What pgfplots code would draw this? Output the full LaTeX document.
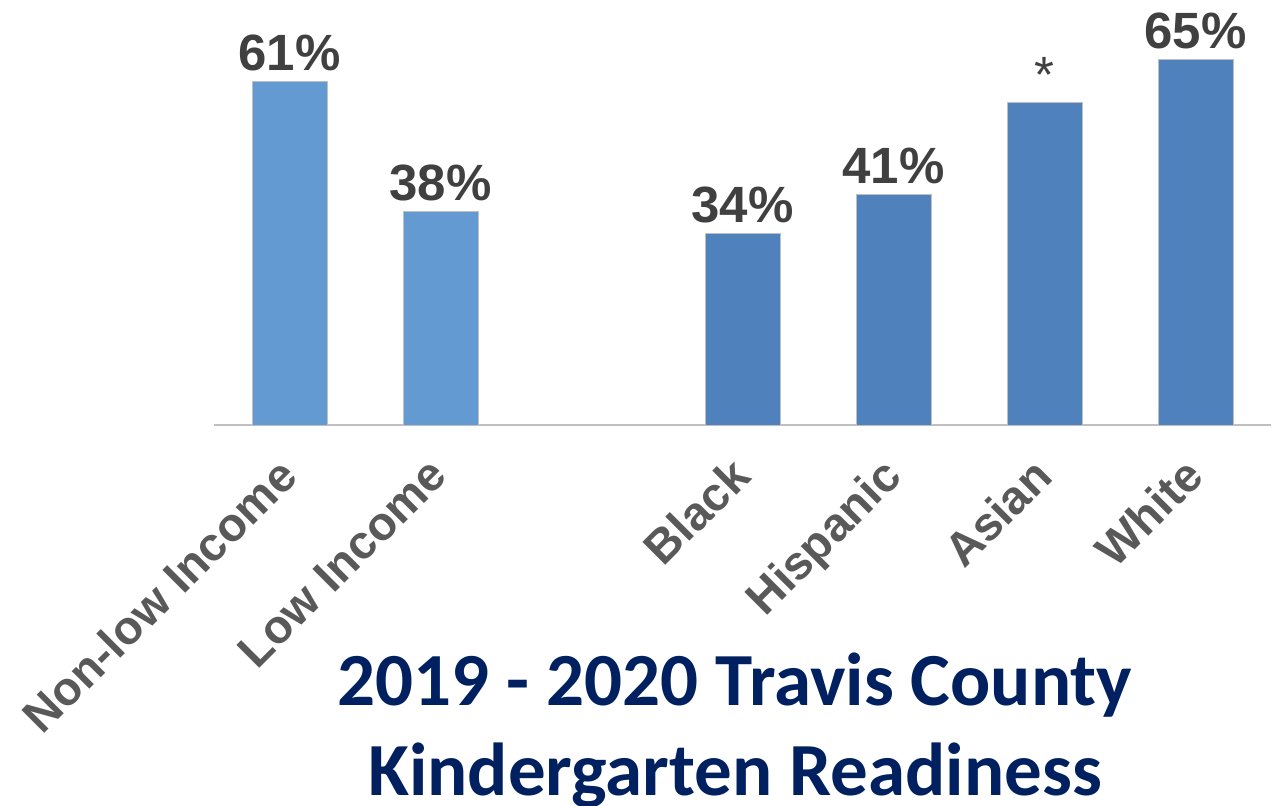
\documentclass[border=0pt]{standalone}
\usepackage{fontspec}
\setmainfont{Liberation Sans}
\newfontfamily\titlefont{Carlito}
\usepackage{pgfplots}
\pgfplotsset{compat=1.18}
\definecolor{barlight}{RGB}{98,154,209}
\definecolor{bardark}{RGB}{79,129,189}
\definecolor{valgray}{RGB}{64,64,64}
\definecolor{tickgray}{RGB}{89,89,89}
\definecolor{titleblue}{RGB}{0,32,96}
\begin{document}
\begin{tikzpicture}
\begin{axis}[
  at={(144.75pt,190pt)}, anchor=origin,
  scale only axis,
  width=528.5pt, height=211pt,
  xmin=-0.5, xmax=6.5, ymin=0, ymax=75,
  ybar, bar width=37.5pt, bar shift=0pt,
  axis x line=bottom, axis y line=none,
  axis line style={draw=black!25, line width=1.4pt, -},
  xtick={0,1,3,4,5,6},
  xticklabels={Non-low Income, Low Income, Black, Hispanic, Asian, White},
  major tick length=0pt,
  xticklabel style={font=\fontsize{23.5}{28}\selectfont\bfseries, text=tickgray,
    rotate=45, anchor=north east, inner sep=0pt, xshift=-15.4pt, yshift=-5.5pt},
  point meta=explicit symbolic,
  nodes near coords,
  every node near coord/.append style={font=\fontsize{25.5}{30}\selectfont\bfseries,
    text=valgray, anchor=south, inner sep=0pt, yshift=5pt},
  clip=false,
]
\addplot[fill=barlight, draw=black!25, line width=0.5pt] coordinates {
  (0,61) [61\%]
  (1,38) [38\%]
};
\addplot[fill=bardark, draw=black!25, line width=0.5pt] coordinates {
  (3,34) [34\%]
  (4,41) [41\%]
  (5,57.3) [\mdseries *]
  (6,65) [65\%]
};
\end{axis}
\node[anchor=base, text=titleblue, font=\titlefont\fontsize{37.5}{45}\selectfont\bfseries, inner sep=0pt] at (367.5pt,50pt) {2019 - 2020 Travis County};
\node[anchor=base, text=titleblue, font=\titlefont\fontsize{37.5}{45}\selectfont\bfseries, inner sep=0pt] at (367.5pt,5pt) {Kindergarten Readiness};
\pgfresetboundingbox
\path[use as bounding box] (0,0) rectangle (636.5pt,402.5pt);
\end{tikzpicture}
\end{document}
